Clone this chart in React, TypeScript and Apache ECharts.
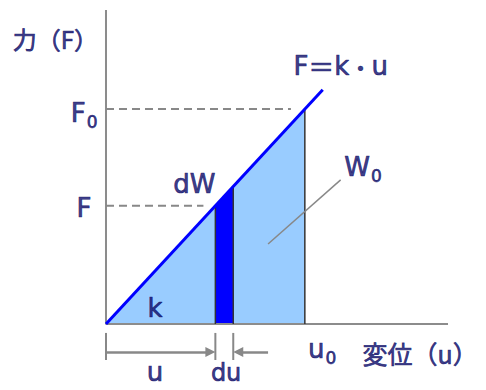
import { useEffect, useRef } from "react";
import * as echarts from "echarts";

// Spring: F = k·u
const springK = 1.08;
const uValues = [5.5, 6.4, 10]; // u, u+du, u0
const lineEndU = 10.9;
const axisEnds = [17.2, 15.78]; // end of u axis, end of F axis
const dashedEnds = [4.9, 9.3]; // where the F and F0 guide lines stop
const leaderLine = [[8.15, 4.02], [11.8, 7.24]]; // pointer to W0
const dimTickRange = [-0.45, -1.81];
const dimArrowLevel = [-1.41];
const dimArrowStart = [0, 8.15];

const NAVY = "#0a0a68";
const LATIN = "'DejaVu Sans', 'Noto Sans CJK JP', sans-serif";
const CJK = "'Noto Sans CJK JP', sans-serif";

const textLabels: { text: string; at: number[] }[] = [
  { text: "{j|力（F）}", at: [-2.55, 14.37] },
  { text: "{m|F}{s|0}", at: [-1.1, 10.6] },
  { text: "{m|F}", at: [-1.11, 5.83] },
  { text: "{m|F}{e|＝}{m|k}{d|・}{m|u}", at: [11.8, 12.97] },
  { text: "{m|W}{s|0}", at: [12.93, 7.9] },
  { text: "{m|dW}", at: [4.45, 7.04] },
  { text: "{m|k}", at: [2.46, 0.8] },
  { text: "{m|u}", at: [2.46, -2.41] },
  { text: "{n|du}", at: [6.04, -2.46] },
  { text: "{m|u}{s|0}", at: [10.87, -1.25] },
  { text: "{k|変位（u）}", at: [15.8, -1.46] },
];

export default function App() {
  const ref = useRef<HTMLDivElement>(null);
  useEffect(() => {
    if (!ref.current) return;
    const chart = echarts.init(ref.current, undefined, { renderer: "svg" });
    const [u, uPlus, u0] = uValues;
    const F = springK * u;
    const F0 = springK * u0;
    const seg = (pts: number[][], color: string, width: number, type: any = "solid", z = 3) => ({
      type: "line",
      data: pts,
      symbol: "none",
      silent: true,
      z,
      lineStyle: { color, width, type, cap: "butt" },
    });
    const txt = (size: number, family: string) => ({
      fontSize: size,
      fontFamily: family,
      color: NAVY,
      textBorderColor: NAVY,
      textBorderWidth: 0.7,
    });
    const series: any[] = [
      {
        type: "line",
        data: [[0, 0], [u0, F0]],
        symbol: "none",
        silent: true,
        z: 1,
        lineStyle: { width: 0 },
        areaStyle: { color: "#99ccff", opacity: 1 },
      },
      {
        type: "line",
        data: [[u, F], [uPlus, springK * uPlus]],
        symbol: "none",
        silent: true,
        z: 2,
        lineStyle: { width: 0 },
        areaStyle: { color: "#0000ff", opacity: 1 },
      },
      seg([[0, axisEnds[1]], [0, 0], [axisEnds[0], 0]], "#8c8c8c", 2),
      ...uValues.map((x) => seg([[x, 0], [x, springK * x]], "#333333", 1.5, "solid", 4)),
      seg([[0, 0], [lineEndU, springK * lineEndU]], "#0000ff", 3, "solid", 5),
      seg([[0, F], [dashedEnds[0], F]], "#888888", 2, [8, 5]),
      seg([[0, F0], [dashedEnds[1], F0]], "#888888", 2, [8, 5]),
      seg(leaderLine, "#888888", 1.5, "solid", 6),
      ...[0, u, uPlus].map((x) => seg([[x, dimTickRange[0]], [x, dimTickRange[1]]], "#888888", 2)),
      {
        type: "line",
        data: [],
        silent: true,
        markLine: {
          silent: true,
          animation: false,
          symbol: ["none", "triangle"],
          symbolSize: [10, 10],
          label: { show: false },
          lineStyle: { color: "#888888", width: 2.5, type: "solid" },
          emphasis: { disabled: true },
          data: [
            [{ coord: [dimArrowStart[0], dimArrowLevel[0]] }, { coord: [u - 0.25, dimArrowLevel[0]] }],
            [{ coord: [dimArrowStart[1], dimArrowLevel[0]] }, { coord: [uPlus + 0.25, dimArrowLevel[0]] }],
          ],
        },
      },
      {
        type: "scatter",
        symbolSize: 1,
        silent: true,
        z: 10,
        itemStyle: { color: "rgba(0,0,0,0)" },
        label: {
          show: true,
          position: "inside",
          color: NAVY,
          rich: {
            m: txt(26, LATIN),
            n: { ...txt(24, LATIN), lineHeight: 24 },
            s: { ...txt(17, LATIN), padding: [18, 0, 0, 1] },
            e: txt(26, CJK),
            d: txt(22, CJK),
            j: txt(24, CJK),
            k: txt(25, CJK),
          },
        },
        data: textLabels.map((t) => ({ value: t.at, label: { formatter: t.text } })),
      },
    ];
    chart.setOption({
      animation: false,
      grid: { left: 0, right: 0, top: 0, bottom: 0 },
      xAxis: { type: "value", min: -5.33, max: 19.11, show: false },
      yAxis: { type: "value", min: -3.317, max: 16.28, show: false },
      series,
    });
    return () => chart.dispose();
  }, []);
  return (
    <div
      ref={ref}
      style={{ position: "fixed", left: 0, top: 0, width: 486, height: 390, background: "#fff" }}
    />
  );
}
